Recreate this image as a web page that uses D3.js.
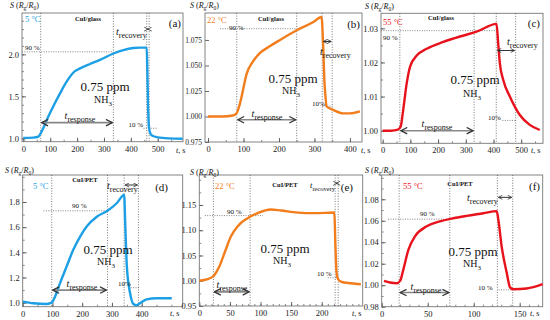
<!DOCTYPE html>
<html><head><meta charset="utf-8">
<script src="https://cdnjs.cloudflare.com/ajax/libs/d3/7.8.5/d3.min.js"></script>
<style>body{margin:0;background:#fff}svg{display:block}text{font-family:"Liberation Serif","Times New Roman",serif}</style>
</head><body><svg id="c" width="550" height="320"></svg>
<script>
// ---------- data (time t in s, response S = Rg/R0) ----------
const tA=[0,37,56,64.5,74,93,112,136.5,161,192,211,248,285,335,372,409,434,459,461,464,467,472,480,500,540,593];
const sA=[1.005,1.008,1.02,1.06,1.12,1.26,1.385,1.536,1.675,1.80,1.833,1.885,1.933,2.01,2.05,2.075,2.08,2.08,1.85,1.4,1.15,1.06,1.03,1.012,1.0,0.996];
const tB=[0,40,70,80,88,95,109,125,146,175,203,250,297,320,325,328,331,334,353,381,400,428];
const sB=[1.000,1.000,1.001,1.003,1.01,1.02,1.042,1.053,1.062,1.069,1.075,1.0845,1.0925,1.0975,1.065,1.035,1.02,1.01,1.0065,1.003,1.003,1.005];
const tC=[0,30,55,65,74,87,99,123,159,219,279,339,411,417,423,435,459,495,531,567];
const sC=[1.000,1.000,1.0003,1.0012,1.006,1.014,1.0188,1.022,1.024,1.026,1.0276,1.029,1.0313,1.0256,1.0197,1.0149,1.01,1.0046,1.0017,1.0002];
const tD=[0,36,81,97.5,109,125.5,148,170,193,215,249,285,316,341,345,350,361,372,383,394,417,450,501];
const sD=[1.008,0.995,0.99,1.0,1.05,1.155,1.29,1.42,1.525,1.605,1.683,1.73,1.79,1.855,1.6,1.29,1.075,0.99,0.98,0.995,1.026,1.035,1.035];
const tE=[0,13.6,24.5,32.7,40.9,51.8,62.7,79,95.4,117,133.5,161,188,220.7,222.3,224,226,231.6,248,264];
const sE=[1.0,1.003,1.011,1.028,1.054,1.088,1.108,1.124,1.134,1.141,1.139,1.135,1.134,1.135,1.074,1.021,1.005,0.998,0.995,0.993];
const tF=[2.5,9,16.3,20,23.6,29,36.2,48.9,63.4,76,92.4,110.5,125,126.8,130.4,135.9,139.5,143,157.6,175];
const sF=[1.004,1.0025,1.0018,1.004,1.0148,1.033,1.0455,1.0548,1.0594,1.062,1.0646,1.067,1.069,1.061,1.036,1.0117,0.998,0.9963,0.997,1.001];

// marker times (dotted verticals): response start, 90 %, gas off, 10 %
const vA=[64.5,335,459,468], vB=[81,250,322,350], vC=[62,330,410,480];
const vD=[97.5,285,341,389], vE=[23,83,222,227], vF=[19,74,125.7,142.4];
// [S level, t from, t to]
const p90A=[2.03,-5,335], p90B=[1.086,34,250], p90C=[1.0293,-6,410];
const p90D=[1.73,70,285], p90E=[1.129,9,104], p90F=[1.0615,7,74];
const p10A=[1.12,447,496], p10B=[1.01,322,350], p10C=[1.003,432,480];
const p10D=[1.119,355,394], p10E=[1.006,210,227], p10F=[0.9957,127,142.4];
const respA=[1.187,64.5,335], respB=[0.9968,81,250], respC=[1.0,62,330];
const respD=[1.10,97.5,285], respE=[0.978,23,83], respF=[0.9932,19,74];
const recA=[2.30,459,468], recB=[1.0735,322,350], recC=[1.0235,410,480];
const recD=[1.935,341,389], recE=[1.193,222,227], recF=[1.0818,125.7,142.4];

// tick labels
const xtA=[0,100,200,300,400,500], ytA=[1.0,1.5,2.0];
const xtB=[0,100,200,300,400], ytB=[0.975,1.000,1.025,1.050,1.075];
const xtC=[0,100,200,300,400,500], ytC=[1.00,1.01,1.02,1.03];
const xtD=[0,100,200,300,400], ytD=[1.0,1.2,1.4,1.6,1.8];
const xtE=[0,50,100,150,200], ytE=[0.95,1.00,1.05,1.10,1.15];
const xtF=[0,50,100,150], ytF=[0.98,1.00,1.02,1.04,1.06,1.08];
const tempLabels=["5 °C","22 °C","55 °C","5 °C","22 °C","55 °C"];
const matLabels=["CuI/glass","CuI/glass","CuI/glass","CuI/PET","CuI/PET","CuI/PET"];
const tagLabels=["(a)","(b)","(c)","(d)","(e)","(f)"];

// ---------- layout ----------
const BLUE="#1c9fe4", ORANGE="#f27d1c", RED="#e8121c";
const panels=[
 {t:tA,s:sA,v:vA,p90:p90A,p10:p10A,resp:respA,rec:recA,xt:xtA,yt:ytA,fmt:".1f",xm:50,ym:0.1,
  box:[22,13,183,141.7],xd:[-5,594],yd:[0.96,2.492],c:BLUE,ysans:false,
  L:{temp:[25,22],mat:[88,21],tag:[181,27],conc:[105,91],nh3:[103,103],l90:[25,50,"90 %"],l10:[143,127,"10 %","end"],resp:[80,119],rec:[116,35],S:[10,8],ts:[176,153]}},
 {t:tB,s:sB,v:vB,p90:p90B,p10:p10B,resp:respB,rec:recB,xt:xtB,yt:ytB,fmt:".3f",xm:50,ym:null,
  box:[205,13,362,142],xd:[-8.5,434],yd:[0.975,1.1014],c:ORANGE,ysans:true,
  L:{temp:[207,23],mat:[271,21],tag:[360,28],conc:[293,83],nh3:[291,94],l90:[229,30,"90 %"],l10:[312,106,"10%"],resp:[267,117],rec:[320,55],S:[190,8],ts:[361,153]}},
 {t:tC,s:sC,v:vC,p90:p90C,p10:p10C,resp:respC,rec:recC,xt:xtC,yt:ytC,fmt:".2f",xm:50,ym:0.005,
  box:[381,13.3,543,143.3],xd:[-6,578.7],yd:[0.9963,1.0344],c:RED,ysans:false,
  L:{temp:[383,25],mat:[441,20],tag:[540,27],conc:[475,84],nh3:[472,97],l90:[383,40,"90 %"],l10:[488,120,"10%"],resp:[437,127],rec:[507,45],S:[365,9],ts:[531,153]}},
 {t:tD,s:sD,v:vD,p90:p90D,p10:p10D,resp:respD,rec:recD,xt:xtD,yt:ytD,fmt:".1f",xm:50,ym:0.1,
  box:[22.7,175,182.7,306.7],xd:[0,537.8],yd:[0.968,2.0145],c:BLUE,ysans:false,
  L:{temp:[33,189],mat:[85,182],tag:[168,191],conc:[108,254],nh3:[106,265],l90:[72,208,"90 %"],l10:[118,286,"10%"],resp:[82,287],rec:[107,189],S:[5,173],ts:[170,316]}},
 {t:tE,s:sE,v:vE,p90:p90E,p10:p10E,resp:respE,rec:recE,xt:xtE,yt:ytE,fmt:".2f",xm:10,ym:0.025,
  box:[199.3,175,362.7,306],xd:[0,267],yd:[0.95,1.2094],c:ORANGE,ysans:false,
  L:{temp:[215,189],mat:[285,187],tag:[353,191],conc:[285,253],nh3:[282,264],l90:[227,214,"90 %"],l10:[317,276,"10 %"],resp:[232,288],rec:[310,188,8.5],S:[190,175],ts:[352,316]}},
 {t:tF,s:sF,v:vF,p90:p90F,p10:p10F,resp:respF,rec:recF,xt:xtF,yt:ytF,fmt:".2f",xm:10,ym:0.01,
  box:[381.7,175,542.7,306.7],xd:[0,175],yd:[0.98,1.1026],c:RED,ysans:false,
  L:{temp:[403,189],mat:[460,186],tag:[540,190],conc:[473,256],nh3:[472,267],l90:[420,216,"90 %"],l10:[478,290,"10 %"],resp:[426,290],rec:[467,201],S:[365,173],ts:[530,316]}}
];

const svg=d3.select("#c");
const defs=svg.append("defs");
["s","e"].forEach(k=>{
  defs.append("marker").attr("id","arr"+k).attr("viewBox","0 0 10 10").attr("refX",k==="e"?9:1).attr("refY",5)
   .attr("markerWidth",5).attr("markerHeight",5).attr("orient","auto")
   .append("path").attr("d",k==="e"?"M1,1 L9,5 L1,9":"M9,1 L1,5 L9,9").attr("fill","none").attr("stroke","#333").attr("stroke-width",1.6);
});
const serif='"Liberation Serif","Times New Roman",serif';
const sans='"Liberation Sans",Arial,sans-serif';

function range(a,b,st){const r=[];for(let v=a;v<=b+1e-9;v+=st)r.push(+v.toFixed(6));return r;}

panels.forEach((p,i)=>{
  const [x0,y0,x1,y1]=p.box;
  const x=d3.scaleLinear().domain(p.xd).range([x0,x1]);
  const y=d3.scaleLinear().domain(p.yd).range([y1,y0]);
  const g=svg.append("g");
  if(p.xm){
    const xm=range(Math.ceil(p.xd[0]/p.xm)*p.xm,p.xd[1],p.xm).filter(v=>v>=p.xd[0]);
    g.append("g").attr("transform",`translate(0,${y1})`).call(d3.axisBottom(x).tickValues(xm).tickSize(-2).tickFormat(""))
     .call(a=>a.select(".domain").remove()).selectAll("line").attr("stroke","#555").attr("stroke-width",0.7);
  }
  if(p.ym){
    const ym=range(Math.ceil(p.yd[0]/p.ym)*p.ym,p.yd[1],p.ym).filter(v=>v>=p.yd[0]);
    g.append("g").attr("transform",`translate(${x0},0)`).call(d3.axisLeft(y).tickValues(ym).tickSize(-2).tickFormat(""))
     .call(a=>a.select(".domain").remove()).selectAll("line").attr("stroke","#555").attr("stroke-width",0.7);
  }
  const ax=g.append("g").attr("transform",`translate(0,${y1})`)
   .call(d3.axisBottom(x).tickValues(p.xt).tickSize(-4).tickPadding(4).tickFormat(d3.format("d")));
  ax.select(".domain").remove();
  ax.attr("font-family",serif).attr("font-size",8.5);
  ax.selectAll("line").attr("stroke","#444").attr("stroke-width",0.8);
  ax.selectAll("text").attr("fill","#222");
  const ay=g.append("g").attr("transform",`translate(${x0},0)`)
   .call(d3.axisLeft(y).tickValues(p.yt).tickSize(-4).tickPadding(3).tickFormat(d3.format(p.fmt)));
  ay.select(".domain").remove();
  ay.attr("font-family",p.ysans?sans:serif).attr("font-size",p.ysans?7.5:8.5);
  ay.selectAll("line").attr("stroke","#444").attr("stroke-width",0.8);
  ay.selectAll("text").attr("fill","#222");
  g.append("rect").attr("x",x0).attr("y",y0).attr("width",x1-x0).attr("height",y1-y0)
   .attr("fill","none").attr("stroke","#777").attr("stroke-width",0.9);
  g.selectAll(".vl").data(p.v).join("line").attr("x1",d=>x(d)).attr("x2",d=>x(d)).attr("y1",y0).attr("y2",y1)
   .attr("stroke","#555").attr("stroke-width",0.8).attr("stroke-dasharray","1,1.6");
  [p.p90,p.p10].forEach(l=>{
    g.append("line").attr("x1",x(l[1])).attr("x2",x(l[2])).attr("y1",y(l[0])).attr("y2",y(l[0]))
     .attr("stroke","#666").attr("stroke-width",0.8).attr("stroke-dasharray","1,1.4");
  });
  const line=d3.line().x((d,k)=>x(p.t[k])).y((d,k)=>y(p.s[k])).curve(d3.curveMonotoneX);
  g.append("path").attr("d",line(p.s)).attr("fill","none").attr("stroke",p.c).attr("stroke-width",2.4)
   .attr("stroke-linejoin","round");
  [p.resp,p.rec].forEach((l,j)=>{
    g.append("line").attr("x1",x(l[1])+1).attr("x2",x(l[2])-1).attr("y1",y(l[0])).attr("y2",y(l[0]))
     .attr("stroke",j===0?"#888":"#333").attr("stroke-width",j===0?1.6:1)
     .attr("marker-start","url(#arrs)").attr("marker-end","url(#arre)");
  });
  const L=p.L;
  const T=(pos,opt)=>{
    const t=g.append("text").attr("x",pos[0]).attr("y",pos[1]).attr("font-family",serif)
     .attr("font-size",opt.size).attr("fill",opt.fill||"#111").attr("text-anchor",opt.anchor||"start");
    if(opt.weight)t.attr("font-weight",opt.weight);
    return t;
  };
  T(L.temp,{size:8.5,fill:p.c}).text(tempLabels[i]);
  T(L.mat,{size:6.5,anchor:"middle",weight:"bold"}).text(matLabels[i]);
  T(L.tag,{size:11,anchor:"end"}).text(tagLabels[i]);
  T(L.conc,{size:13,anchor:"middle"}).text("0.75 ppm");
  const nh=T(L.nh3,{size:10,anchor:"middle"});
  nh.append("tspan").text("NH");nh.append("tspan").attr("font-size",7).attr("dy",2.5).text("3");
  T([L.l90[0],L.l90[1]],{size:7}).text(L.l90[2]);
  T([L.l10[0],L.l10[1]],{size:7,anchor:L.l10[3]||"start"}).text(L.l10[2]);
  const rs=T(L.resp,{size:10,anchor:"middle"});
  rs.append("tspan").attr("font-style","italic").text("t");
  rs.append("tspan").attr("font-size",8).attr("dy",2.5).text("response");
  const rc=T(L.rec,{size:L.rec[2]||10});
  rc.append("tspan").attr("font-style","italic").text("t");
  rc.append("tspan").attr("font-size",(L.rec[2]||10)-2).attr("dy",2.5).text("recovery");
  const sl=T(L.S,{size:8});
  sl.append("tspan").attr("font-style","italic").text("S");
  sl.append("tspan").text(" (");
  sl.append("tspan").attr("font-style","italic").text("R");
  sl.append("tspan").attr("font-size",5.5).attr("dy",1.5).text("g");
  sl.append("tspan").attr("dy",-1.5).text("/");
  sl.append("tspan").attr("font-style","italic").text("R");
  sl.append("tspan").attr("font-size",5.5).attr("dy",1.5).text("0");
  sl.append("tspan").attr("dy",-1.5).text(")");
  const ts=T(L.ts,{size:8});
  ts.append("tspan").attr("font-style","italic").text("t");
  ts.append("tspan").text(", s");
});
</script></body></html>
